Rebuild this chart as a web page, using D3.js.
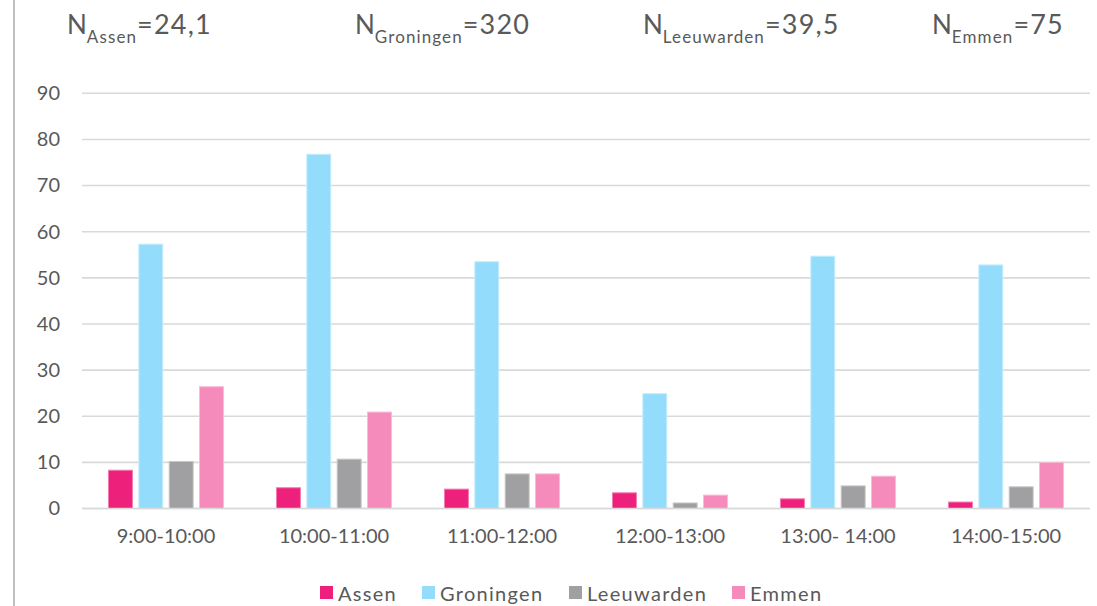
<!DOCTYPE html>
<html><head><meta charset="utf-8">
<script src="https://cdn.jsdelivr.net/npm/d3@7"></script>
<style>body{margin:0;background:#fff}svg{display:block}text{font-family:Lato,"Open Sans",sans-serif;fill:#595959}</style>
</head><body><svg id="c" width="1097" height="606"></svg>
<script>
const categories = ["9:00-10:00","10:00-11:00","11:00-12:00","12:00-13:00","13:00- 14:00","14:00-15:00"];
const seriesNames = ["Assen","Groningen","Leeuwarden","Emmen"];
const assen = [8.3, 4.5, 4.2, 3.4, 2.1, 1.4];
const groningen = [57.3, 76.8, 53.5, 24.9, 54.7, 52.8];
const leeuwarden = [10.2, 10.7, 7.5, 1.2, 4.9, 4.7];
const emmen = [26.4, 20.9, 7.5, 2.9, 7.0, 10.0];
const yTicks = [0,10,20,30,40,50,60,70,80,90];
const titleParts = [["Assen","24,1"],["Groningen","320"],["Leeuwarden","39,5"],["Emmen","75"]];
const colors = ["#ED207B","#93DCFB","#A0A0A2","#F58BBA"];
const strokes = ["#F77BB0","#C8EEFD","#C8C8CA","#FBBAD6"];

const values = [assen, groningen, leeuwarden, emmen];
const svg = d3.select("#c");
const pLeft = 82, pRight = 1090, pTop = 93.3, pBottom = 508.5;

// left border line
svg.append("line").attr("x1",14).attr("x2",14).attr("y1",0).attr("y2",606).attr("stroke","#BFBFBF").attr("stroke-width",2);

const x = d3.scaleBand().domain(categories).range([pLeft,pRight]).paddingInner(0.315).paddingOuter(0.1575);
const xs = d3.scaleBand().domain(seriesNames).range([0,x.bandwidth()]).paddingInner(0.21);
const y = d3.scaleLinear().domain([0,90]).range([pBottom,pTop]);

// gridlines
svg.append("g").selectAll("line").data(yTicks).join("line")
  .attr("x1",pLeft).attr("x2",pRight).attr("y1",d=>y(d)).attr("y2",d=>y(d))
  .attr("stroke","#D9D9D9").attr("stroke-width",1.6);

// y axis labels
const yAxis = svg.append("g").attr("transform",`translate(${pLeft},0)`)
  .call(d3.axisLeft(y).tickValues(yTicks).tickSize(0).tickPadding(22));
yAxis.select(".domain").remove();
yAxis.selectAll("text").style("font-size","20px").attr("fill","#595959").style("font-family","Lato,'Open Sans',sans-serif");

// bars
const groups = svg.append("g").selectAll("g").data(categories).join("g")
  .attr("transform",d=>`translate(${x(d)},0)`);
groups.selectAll("rect").data((c,i)=>seriesNames.map((s,j)=>({s,j,v:values[j][i]}))).join("rect")
  .attr("x",d=>xs(d.s)).attr("width",xs.bandwidth())
  .attr("y",d=>y(d.v)).attr("height",d=>y(0)-y(d.v))
  .attr("fill",d=>colors[d.j]).attr("stroke",d=>strokes[d.j]).attr("stroke-width",1);

// baseline
svg.append("line").attr("x1",pLeft).attr("x2",pRight).attr("y1",y(0)).attr("y2",y(0)).attr("stroke","#D9D9D9").attr("stroke-width",1.6);

// x axis labels
const xAxis = svg.append("g").attr("transform",`translate(0,${pBottom})`)
  .call(d3.axisBottom(x).tickSize(0).tickPadding(20));
xAxis.select(".domain").remove();
xAxis.selectAll("text").style("font-size","20px").attr("fill","#595959").style("font-family","Lato,'Open Sans',sans-serif");

// titles
const titleX = [67, 355, 643, 932];
titleParts.forEach((p,i)=>{
  const t = svg.append("text").attr("x",titleX[i]).attr("y",33.5).style("font-size","26px");
  t.append("tspan").text("N");
  t.append("tspan").text(p[0]).attr("dy",9.5).style("font-size","17px").style("letter-spacing","1.1px");
  t.append("tspan").text("="+p[1]).attr("dy",-9.5).style("font-size","27px").style("letter-spacing","1.2px");
});

// legend
const legX = [320, 422, 569, 732];
seriesNames.forEach((s,i)=>{
  svg.append("rect").attr("x",legX[i]).attr("y",586).attr("width",13).attr("height",13).attr("fill",colors[i]);
  svg.append("text").attr("x",legX[i]+18).attr("y",600.5).text(s).style("font-size","20px").style("letter-spacing","1.3px");
});
</script></body></html>
